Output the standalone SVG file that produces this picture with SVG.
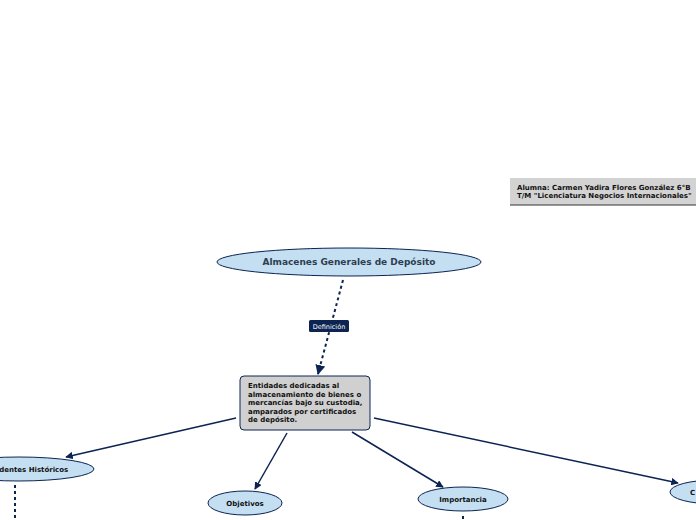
<svg xmlns="http://www.w3.org/2000/svg" width="696" height="520" viewBox="0 0 696 520">
<style>
text{font-family:"DejaVu Sans",Verdana,sans-serif;font-weight:bold;}
.ell{fill:#c4dff1;stroke:#0c2452;stroke-width:1;}
.lbl{font-size:7px;fill:#111;}
.con{stroke:#0c2452;stroke-width:1.5;fill:none;}
.dot{stroke:#0c2452;stroke-width:2;fill:none;stroke-dasharray:3 3;}
.tag{font-size:6.5px;fill:#fff;font-weight:normal;}
</style>
<defs>
<marker id="ah" viewBox="0 0 10 10" refX="9" refY="5" markerWidth="5" markerHeight="5" orient="auto"><path d="M0,0 L10,5 L0,10 z" fill="#0c2452"/></marker>
</defs>
<rect width="696" height="520" fill="#fff"/>
<g id="connectors">
<line class="dot" x1="343" y1="280" x2="318" y2="374" marker-end="url(#ah)"/>
<line class="con" x1="236" y1="418" x2="66" y2="457" marker-end="url(#ah)"/>
<line class="con" x1="287" y1="433" x2="255" y2="489" marker-end="url(#ah)"/>
<line class="con" x1="352" y1="432" x2="443" y2="487" marker-end="url(#ah)"/>
<line class="con" x1="374" y1="418" x2="678" y2="483" marker-end="url(#ah)"/>
<line class="dot" x1="15" y1="485" x2="15" y2="520"/>
<line class="dot" x1="463" y1="516" x2="463" y2="520"/>
</g>
<g id="author">
<rect x="510" y="178" width="186" height="27" fill="#d3d3d3"/>
<line x1="510" y1="205" x2="696" y2="205" stroke="#333" stroke-width="1"/>
<text class="lbl" x="517" y="190">Alumna: Carmen Yadira Flores González 6°B</text>
<text class="lbl" x="517" y="198">T/M "Licenciatura Negocios Internacionales"</text>
</g>
<g id="main">
<ellipse class="ell" cx="349" cy="262" rx="132" ry="14"/>
<text x="349" y="265" text-anchor="middle" font-size="9" fill="#2d3e50">Almacenes Generales de Depósito</text>
</g>
<g id="def-label">
<rect x="309" y="320" width="40" height="12" rx="1.5" fill="#0c2452"/>
<text class="tag" x="329" y="329" text-anchor="middle">Definición</text>
</g>
<g id="definition">
<rect x="240" y="376" width="130" height="54" rx="4" fill="#d0d0d0" stroke="#0c2452" stroke-width="1"/>
<text class="lbl" x="248" y="388">Entidades dedicadas al</text>
<text class="lbl" x="248" y="396.5">almacenamiento de bienes o</text>
<text class="lbl" x="248" y="405">mercancías bajo su custodia,</text>
<text class="lbl" x="248" y="413.5">amparados por certificados</text>
<text class="lbl" x="248" y="422">de depósito.</text>
</g>
<g id="antecedentes">
<ellipse class="ell" cx="19" cy="469" rx="75" ry="12"/>
<text class="lbl" x="20" y="472" text-anchor="middle">Antecedentes Históricos</text>
</g>
<g id="objetivos">
<ellipse class="ell" cx="245" cy="503" rx="37" ry="12"/>
<text class="lbl" x="245" y="506" text-anchor="middle">Objetivos</text>
</g>
<g id="importancia">
<ellipse class="ell" cx="463" cy="499" rx="45" ry="12"/>
<text class="lbl" x="463" y="502" text-anchor="middle">Importancia</text>
</g>
<g id="right-node">
<ellipse class="ell" cx="715" cy="492" rx="45" ry="12"/>
<text class="lbl" x="690" y="495">C</text>
</g>
</svg>
